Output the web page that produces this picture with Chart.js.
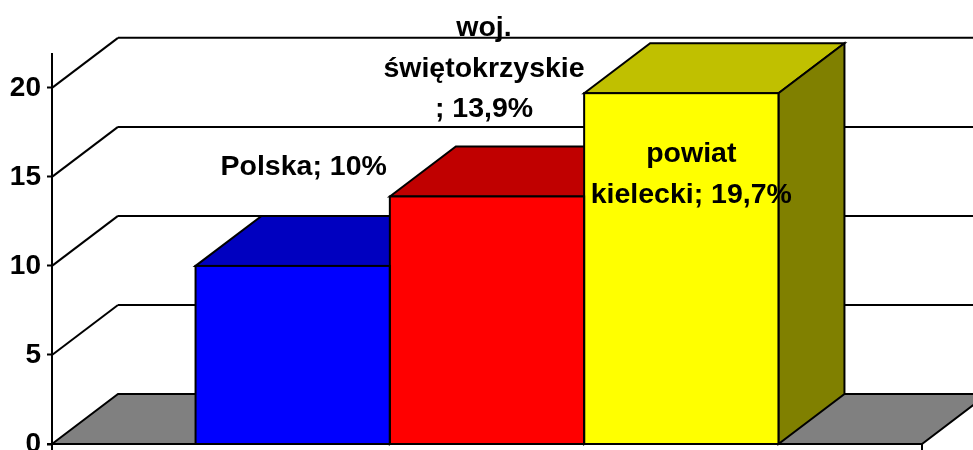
<!DOCTYPE html>
<html>
<head>
<meta charset="utf-8">
<style>
  html, body { margin: 0; padding: 0; background: #fff; overflow: hidden; }
  canvas { display: block; }
</style>
<script src="https://cdn.jsdelivr.net/npm/chart.js@4/dist/chart.umd.min.js"></script>
</head>
<body>
<canvas id="graphOne" width="973" height="450"></canvas>
<script>
var categories = ['2023'];
var seriesNames = ['Polska', 'woj. świętokrzyskie', 'powiat kielecki'];
var seriesValues = [10, 13.9, 19.7];
var tickValues = [0, 5, 10, 15, 20];
var labelLines = [
    ['Polska; 10%'],
    ['woj.', 'świętokrzyskie', '; 13,9%'],
    ['powiat', 'kielecki; 19,7%']
];

var frontColors = ['#0000ff', '#ff0000', '#ffff00'];
var topColors = ['#0000c0', '#c00000', '#c0c000'];
var sideColors = ['#000080', '#800000', '#808000'];
var labelShift = [[11, -99], [-3, -168], [10, 61]];
var labelFont = 'bold 28.5px "Liberation Sans", Arial, sans-serif';
var depthX = 66;
var depthY = 50;

var poly = (ctx, pts, fill) => {
    ctx.beginPath();
    pts.forEach((p, i) => {
        if (i === 0) ctx.moveTo(p[0], p[1]);
        else ctx.lineTo(p[0], p[1]);
    });
    ctx.closePath();
    if (fill) {
        ctx.fillStyle = fill;
        ctx.fill();
    }
    ctx.stroke();
};

var line = (ctx, x1, y1, x2, y2) => {
    ctx.beginPath();
    ctx.moveTo(x1, y1);
    ctx.lineTo(x2, y2);
    ctx.stroke();
};

var box3d = {
    id: 'box3d',
    beforeDatasetsDraw: (chart) => {
        var ctx = chart.ctx;
        var area = chart.chartArea;
        var y = chart.scales.y;
        var base = y.getPixelForValue(0);
        ctx.save();
        ctx.strokeStyle = '#000';
        ctx.lineWidth = 2;

        // floor
        poly(ctx, [
            [area.left, base],
            [area.left + depthX, base - depthY],
            [area.right + depthX, base - depthY],
            [area.right, base]
        ], '#808080');

        // wall grid lines
        tickValues.slice(1).forEach((v) => {
            var py = y.getPixelForValue(v);
            line(ctx, area.left, py, area.left + depthX, py - depthY);
            line(ctx, area.left + depthX, py - depthY, chart.width + 10, py - depthY);
        });

        // bar top and side faces
        seriesValues.forEach((v, i) => {
            var bar = chart.getDatasetMeta(i).data[0];
            var l = bar.x - bar.width / 2;
            var r = bar.x + bar.width / 2;
            var t = y.getPixelForValue(v);
            poly(ctx, [[l, t], [l + depthX, t - depthY], [r + depthX, t - depthY], [r, t]], topColors[i]);
            poly(ctx, [[r, t], [r + depthX, t - depthY], [r + depthX, base - depthY], [r, base]], sideColors[i]);
        });
        ctx.restore();
    },
    afterDatasetsDraw: (chart) => {
        var ctx = chart.ctx;
        var area = chart.chartArea;
        var y = chart.scales.y;
        var base = y.getPixelForValue(0);
        ctx.save();
        ctx.strokeStyle = '#000';
        ctx.lineWidth = 2;

        // front outlines, so neighbouring bars share one line
        seriesValues.forEach((v, i) => {
            var bar = chart.getDatasetMeta(i).data[0];
            var t = y.getPixelForValue(v);
            ctx.strokeRect(bar.x - bar.width / 2, t, bar.width, base - t);
        });

        // front floor edge and its end tick
        line(ctx, area.left - 5, base, area.right, base);
        line(ctx, area.right, base, area.right, chart.height);
        line(ctx, area.left, base, area.left, chart.height);

        ctx.fillStyle = '#000';
        ctx.font = labelFont;
        ctx.textAlign = 'center';
        ctx.textBaseline = 'middle';
        labelLines.forEach((lines, i) => {
            var bar = chart.getDatasetMeta(i).data[0];
            var top = y.getPixelForValue(seriesValues[i]);
            lines.forEach((txt, n) => {
                ctx.fillText(txt, bar.x + labelShift[i][0], top + labelShift[i][1] + n * 40.5);
            });
        });
        ctx.restore();
    }
};

new Chart(
    document.getElementById('graphOne'),
    {
        type: 'bar',
        data: {
            labels: categories,
            datasets: seriesValues.map((v, i) => {
                return {
                    label: seriesNames[i],
                    data: [v],
                    backgroundColor: frontColors[i],
                    borderWidth: 0,
                    barPercentage: 1,
                    categoryPercentage: 0.67
                };
            })
        },
        options: {
            responsive: false,
            animation: false,
            layout: {
                padding: { top: 54, right: 51, bottom: 6, left: 0 }
            },
            plugins: {
                legend: { display: false },
                tooltip: { enabled: false }
            },
            scales: {
                x: {
                    display: false
                },
                y: {
                    min: 0,
                    max: 21.9,
                    afterFit: (scale) => {
                        scale.width = 52;
                        scale.paddingTop = 0;
                        scale.paddingBottom = 0;
                    },
                    grid: {
                        drawOnChartArea: false,
                        drawTicks: true,
                        tickLength: 5,
                        tickWidth: 2,
                        tickColor: '#000'
                    },
                    border: {
                        display: true,
                        color: '#000',
                        width: 2
                    },
                    ticks: {
                        stepSize: 5,
                        includeBounds: false,
                        padding: 6,
                        color: '#000',
                        font: {
                            family: '"Liberation Sans", Arial, sans-serif',
                            size: 28,
                            weight: 'bold'
                        }
                    }
                }
            }
        },
        plugins: [box3d]
    }
);
</script>
</body>
</html>
